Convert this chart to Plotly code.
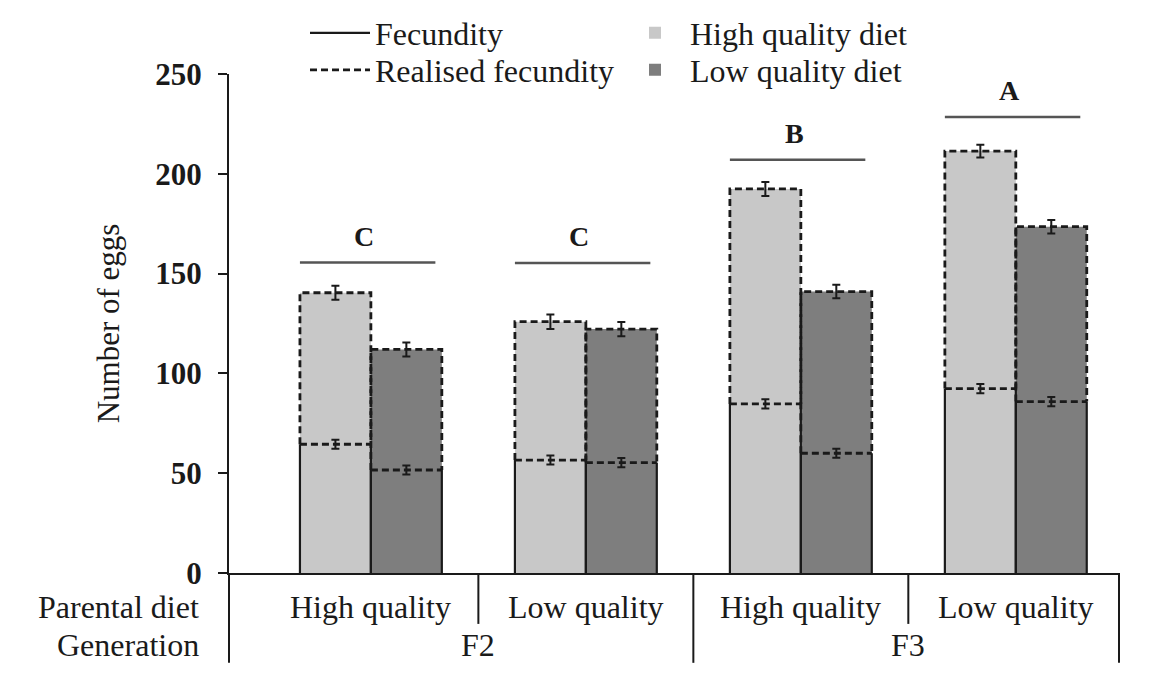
import plotly.graph_objects as go

# ---- data ----
parental_diet = ["High quality", "Low quality", "High quality", "Low quality"]
generation = ["F2", "F3"]
diets = ["High quality diet", "Low quality diet"]

# lower segment (solid outline)
fecundity_high = [64.5, 56.6, 84.7, 92.4]
fecundity_low = [51.6, 55.3, 60.0, 85.9]
fecundity_high_err = [2.3, 2.3, 2.3, 2.3]
fecundity_low_err = [2.3, 2.3, 2.3, 2.3]

# whole bar (dashed outline)
realised_high = [140.4, 125.9, 192.4, 211.4]
realised_low = [112.0, 122.2, 141.0, 173.5]
realised_high_err = [3.5, 3.6, 3.5, 3.2]
realised_low_err = [3.5, 3.6, 3.4, 3.4]

sig_letters = ["C", "C", "B", "A"]
sig_y = [155.5, 155.3, 207.0, 228.5]

# ---- style ----
FONT = "Liberation Serif"
INK = "#1a1a1a"
LIGHT = "#c8c8c8"
DARK = "#7e7e7e"
BW = 0.33
X_RANGE = [-0.66, 3.48]

# page body has an 8px default margin -> figure is 8px smaller and shifted
W, H = 1164, 679
ML, MT, PW, PH = 221, 66, 890, 499

cats = list(range(len(parental_diet)))

fig = go.Figure()

series = [
    (realised_high, fecundity_high, realised_high_err, fecundity_high_err, LIGHT, -BW, diets[0], "legend2"),
    (realised_low, fecundity_low, realised_low_err, fecundity_low_err, DARK, 0.0, diets[1], "legend4"),
]

solid_x, solid_y, dash_x, dash_y = [], [], [], []
for tot, low, tot_e, low_e, col, off, name, lg in series:
    fig.add_trace(go.Bar(
        x=cats, y=tot, offset=off, width=BW, name=name, legend=lg,
        marker=dict(color=col, line=dict(width=0)),
        showlegend=True, hoverinfo="skip",
    ))
    for i, (t, l) in enumerate(zip(tot, low)):
        x0, x1 = i + off, i + off + BW
        solid_x += [x0, x0, None, x1, x1, None]
        solid_y += [0, l, None, 0, l, None]
        dash_x += [x0, x0, x1, x1, None, x0, x1, None]
        dash_y += [l, t, t, l, None, l, l, None]
    centers = [i + off + BW / 2 for i in cats]
    fig.add_trace(go.Scatter(
        x=centers + centers, y=list(tot) + list(low), mode="markers",
        marker=dict(size=1, color="rgba(0,0,0,0)"),
        error_y=dict(type="data", array=list(tot_e) + list(low_e),
                     color=INK, thickness=2, width=4),
        showlegend=False, hoverinfo="skip",
    ))

fig.add_trace(go.Scatter(
    x=solid_x, y=solid_y, mode="lines", name="Fecundity", legend="legend",
    line=dict(color=INK, width=2.2), showlegend=True, hoverinfo="skip",
))
fig.add_trace(go.Scatter(
    x=dash_x, y=dash_y, mode="lines", name="Realised fecundity", legend="legend3",
    line=dict(color=INK, width=2.8, dash="7px,4px"), showlegend=True, hoverinfo="skip",
))

# significance bars
sx, sy = [], []
for i, yv in enumerate(sig_y):
    sx += [i - BW, i + 0.30, None]
    sy += [yv, yv, None]
fig.add_trace(go.Scatter(x=sx, y=sy, mode="lines", line=dict(color="#555555", width=2.5),
                         showlegend=False, hoverinfo="skip"))

annotations = []
for i, (lt, yv) in enumerate(zip(sig_letters, sig_y)):
    annotations.append(dict(x=i - 0.03, y=yv, xref="x", yref="y", text=lt, showarrow=False,
                            yanchor="bottom", yshift=9,
                            font=dict(family=FONT, size=28, color=INK, weight="bold")))

LBL = dict(family=FONT, size=32, color=INK)
# hierarchical category labels
for i, lab in enumerate(parental_diet):
    annotations.append(dict(x=i, y=-0.068, xref="x", yref="paper", text=lab, showarrow=False,
                            yanchor="middle", font=LBL))
for g, lab in enumerate(generation):
    annotations.append(dict(x=2 * g + 0.5, y=-0.145, xref="x", yref="paper", text=lab, showarrow=False,
                            yanchor="middle", font=LBL))
annotations.append(dict(x=-0.032, y=-0.068, xref="paper", yref="paper", text="Parental diet",
                        showarrow=False, xanchor="right", yanchor="middle", font=LBL))
annotations.append(dict(x=-0.032, y=-0.145, xref="paper", yref="paper", text="Generation",
                        showarrow=False, xanchor="right", yanchor="middle", font=LBL))

shapes = []
for xp in [0, 1]:
    shapes.append(dict(type="line", xref="paper", yref="paper", x0=xp, x1=xp, y0=0, y1=-0.18,
                       line=dict(color=INK, width=2)))
for b in [0.5, 1.5, 2.5]:
    long_line = (b == 1.5)
    shapes.append(dict(type="line", xref="x", yref="paper", x0=b, x1=b, y0=0,
                       y1=-0.18 if long_line else -0.102,
                       line=dict(color=INK, width=2)))


def px_x(page_x):
    return (page_x - 8 - ML) / PW


def px_y(page_y):
    return 1 + (MT - (page_y - 8)) / PH


def legend_at(page_x, page_y):
    return dict(x=px_x(page_x), y=px_y(page_y), xanchor="left", yanchor="middle",
                orientation="v", itemwidth=60, bgcolor="rgba(0,0,0,0)",
                font=dict(family=FONT, size=32, color=INK))


fig.update_layout(
    width=W, height=H,
    margin=dict(l=ML, r=W - ML - PW, t=MT, b=H - MT - PH, autoexpand=False),
    plot_bgcolor="white", paper_bgcolor="white",
    barmode="overlay",
    font=dict(family=FONT, size=32, color=INK),
    annotations=annotations, shapes=shapes,
    legend=legend_at(305, 33),
    legend3=legend_at(305, 70),
    legend2=legend_at(620, 33),
    legend4=legend_at(620, 70),
    xaxis=dict(range=X_RANGE, showticklabels=False, ticks="", showgrid=False, zeroline=False,
               showline=True, linecolor=INK, linewidth=2, automargin=False),
    yaxis=dict(range=[0, 250], dtick=50, ticks="outside", ticklen=9, tickwidth=2,
               tickcolor=INK, showgrid=False, zeroline=False, automargin=False,
               showline=True, linecolor=INK, linewidth=2,
               ticklabelstandoff=10,
               tickfont=dict(family=FONT, size=31, color=INK, weight="bold"),
               title=dict(text="Number of eggs", standoff=26,
                          font=dict(family=FONT, size=31, color=INK))),
)

fig.write_html("out.html")
